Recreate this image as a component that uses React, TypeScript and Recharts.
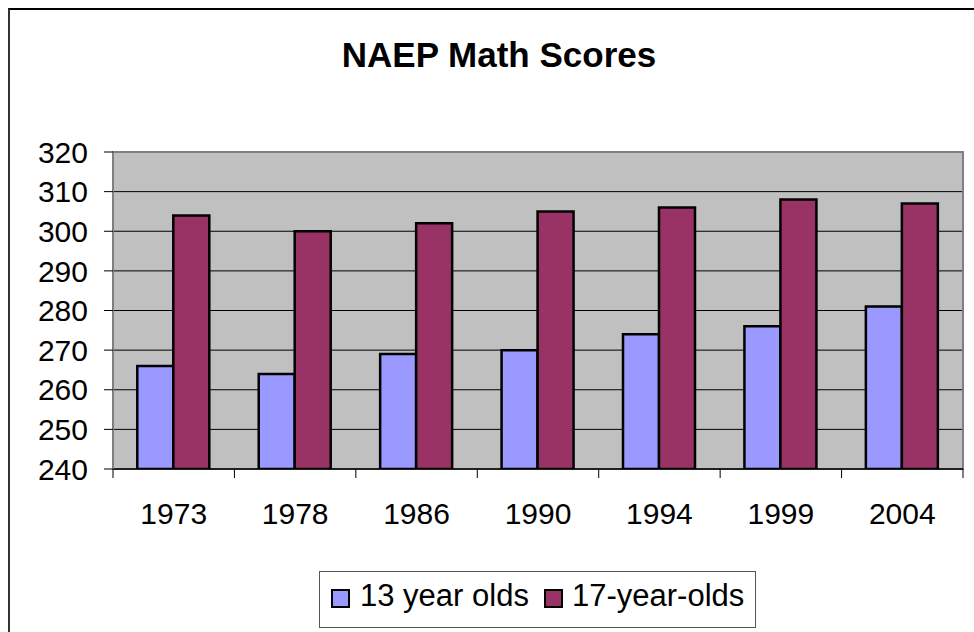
import React from 'react';
import { BarChart, Bar, XAxis, YAxis, CartesianGrid, Legend, ReferenceArea } from 'recharts';

const years = ['1973', '1978', '1986', '1990', '1994', '1999', '2004'];
const age13 = [266, 264, 269, 270, 274, 276, 281];
const age17 = [304, 300, 302, 305, 306, 308, 307];
const yTicks = [240, 250, 260, 270, 280, 290, 300, 310, 320];
const seriesNames = ['13 year olds', '17-year-olds'];
const chartTitle = 'NAEP Math Scores';

const data = years.map((y, i) => ({ year: y, a13: age13[i], a17: age17[i] }));

const FONT = '"Liberation Sans", Arial, sans-serif';
const X_TICK_SIZE = 9;
const X_TICK_MARGIN = 25;

const XTick = (props: any) => {
  const { x, y, payload, index } = props;
  const half = payload && typeof payload.offset === 'number' && payload.offset > 0 ? payload.offset : 60.7;
  const axisY = y - X_TICK_SIZE - X_TICK_MARGIN;
  return (
    <g>
      <line x1={x - half} x2={x - half} y1={axisY} y2={axisY + X_TICK_SIZE} stroke="#000" strokeWidth={1} />
      {index === years.length - 1 && (
        <line x1={x + half} x2={x + half} y1={axisY} y2={axisY + X_TICK_SIZE} stroke="#000" strokeWidth={1} />
      )}
      <text x={x} y={y} dy="0.71em" textAnchor="middle" fill="#000" fontSize={30} fontFamily={FONT}>
        {payload.value}
      </text>
    </g>
  );
};

const LegendBox = (props: any) => {
  const items = props.payload || [];
  const markerLeft = [11, 224];
  const textLeft = [40, 252];
  return (
    <div
      style={{
        position: 'relative',
        width: 437,
        height: 57,
        boxSizing: 'border-box',
        border: '1px solid #555',
        background: '#fff',
        fontFamily: FONT,
        fontSize: 31,
        color: '#000',
      }}
    >
      {items.map((it: any, i: number) => (
        <React.Fragment key={i}>
          <div
            style={{
              position: 'absolute',
              left: markerLeft[i],
              top: 17,
              width: 19,
              height: 19,
              boxSizing: 'border-box',
              border: '2px solid #000',
              background: it.color,
            }}
          />
          <div
            style={{
              position: 'absolute',
              left: textLeft[i],
              top: 9,
              lineHeight: '30px',
              whiteSpace: 'nowrap',
            }}
          >
            {it.value}
          </div>
        </React.Fragment>
      ))}
    </div>
  );
};

export default function App() {
  return (
    <div style={{ position: 'absolute', left: 0, top: 0, width: 974, height: 632, overflow: 'hidden', background: '#fff' }}>
      <div
        style={{
          position: 'absolute',
          left: 8,
          top: 8,
          width: 1000,
          height: 700,
          borderLeft: '2px solid #333',
          borderTop: '2px solid #000',
        }}
      />
      <div style={{ position: 'absolute', left: 0, top: 0 }}>
        <BarChart
          width={974}
          height={632}
          data={data}
          margin={{ top: 152, right: 11, bottom: 103, left: 0 }}
          barCategoryGap="20%"
          barGap={0}
        >
          <CartesianGrid vertical={false} stroke="#000" strokeWidth={1} fill="#C0C0C0" fillOpacity={1} />
          <XAxis
            dataKey="year"
            height={60}
            axisLine={{ stroke: '#000', strokeWidth: 1.5 }}
            tickLine={false}
            tickSize={X_TICK_SIZE}
            tickMargin={X_TICK_MARGIN}
            tick={<XTick />}
            interval={0}
          />
          <YAxis
            width={113}
            domain={[240, 320]}
            ticks={yTicks}
            allowDataOverflow
            axisLine={{ stroke: '#808080', strokeWidth: 2 }}
            tickLine={{ stroke: '#000' }}
            tickSize={9}
            tickMargin={16}
            tick={{ fill: '#000', fontSize: 30, fontFamily: FONT }}
          />
          <ReferenceArea y1={240} y2={320} fill="none" fillOpacity={0} stroke="#808080" strokeWidth={2} ifOverflow="visible" />
          <Bar dataKey="a13" name={seriesNames[0]} fill="#9999FF" stroke="#000" strokeWidth={2.5} isAnimationActive={false} />
          <Bar dataKey="a17" name={seriesNames[1]} fill="#993366" stroke="#000" strokeWidth={2.5} isAnimationActive={false} />
          <Legend
            layout="horizontal"
            verticalAlign="middle"
            align="center"
            content={<LegendBox />}
            wrapperStyle={{ position: 'absolute', left: 319, top: 571, width: 437, height: 57, margin: 0 }}
          />
        </BarChart>
      </div>
      <svg width={974} height={632} style={{ position: 'absolute', left: 0, top: 0, pointerEvents: 'none' }}>
        <text x={499} y={67} textAnchor="middle" fontSize={35} fontWeight="bold" fontFamily={FONT} fill="#000">
          {chartTitle}
        </text>
      </svg>
    </div>
  );
}
